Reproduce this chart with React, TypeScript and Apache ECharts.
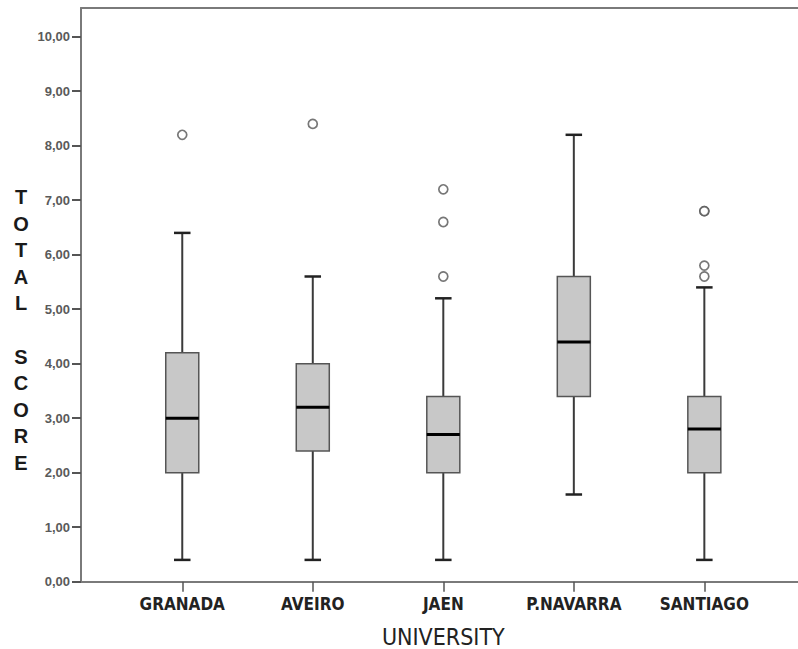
import React, { useEffect, useRef } from "react";
import * as echarts from "echarts";

const categories = ["GRANADA", "AVEIRO", "JAEN", "P.NAVARRA", "SANTIAGO"];
// [min, q1, median, q3, max]
const boxStats = [
  [0.4, 2.0, 3.0, 4.2, 6.4],
  [0.4, 2.4, 3.2, 4.0, 5.6],
  [0.4, 2.0, 2.7, 3.4, 5.2],
  [1.6, 3.4, 4.4, 5.6, 8.2],
  [0.4, 2.0, 2.8, 3.4, 5.4],
];
// [category index, value]
const outliers = [
  [0, 8.2],
  [1, 8.4],
  [2, 7.2],
  [2, 6.6],
  [2, 5.6],
  [4, 6.8],
  [4, 6.8],
  [4, 5.8],
  [4, 5.6],
];
const yTicks = { min: 0, max: 10, interval: 1 };
const yTitle = "T\nO\nT\nA\nL\n\nS\nC\nO\nR\nE";
const xTitle = "UNIVERSITY";

const narrow = "'Liberation Sans Narrow', 'DejaVu Sans Condensed', 'Liberation Sans', sans-serif";

export default function App() {
  const ref = useRef<HTMLDivElement>(null);
  useEffect(() => {
    if (!ref.current) return;
    const chart = echarts.init(ref.current, undefined, { renderer: "svg" });
    const axisGray = "#7a7a7a";
    const option: any = {
      animation: false,
      backgroundColor: "#ffffff",
      title: {
        text: yTitle,
        left: 16,
        top: 325,
        textAlign: "center",
        textVerticalAlign: "middle",
        textStyle: {
          fontFamily: "'Liberation Sans', Arial, sans-serif",
          fontSize: 20,
          fontWeight: "bold",
          color: "#1a1a1a",
          lineHeight: 26.6,
        },
      },
      grid: [
        { left: 81, right: 0, top: 8, bottom: 67.3, outerBoundsMode: "none" },
        { left: 117, right: 28.4, top: 36.7, bottom: 67.3, outerBoundsMode: "none" },
      ],
      xAxis: [
        {
          gridIndex: 0,
          type: "value",
          min: 0,
          max: 1,
          position: "bottom",
          axisLine: { show: true, lineStyle: { color: axisGray, width: 2 } },
          axisTick: { show: false },
          axisLabel: { show: false },
          splitLine: { show: false },
        },
        {
          gridIndex: 0,
          type: "value",
          min: 0,
          max: 1,
          position: "top",
          axisLine: { show: true, lineStyle: { color: axisGray, width: 2 } },
          axisTick: { show: false },
          axisLabel: { show: false },
          splitLine: { show: false },
        },
        {
          gridIndex: 1,
          type: "category",
          data: categories,
          boundaryGap: true,
          axisLine: { show: false },
          axisTick: {
            show: true,
            alignWithLabel: true,
            length: 10,
            lineStyle: { color: "#555", width: 1.5 },
          },
          axisLabel: {
            margin: 14,
            fontFamily: narrow,
            fontSize: 17,
            fontWeight: "bold",
            color: "#222",
          },
          name: xTitle,
          nameLocation: "middle",
          nameGap: 44,
          nameTextStyle: {
            fontFamily: narrow,
            fontSize: 23,
            color: "#222",
          },
          splitLine: { show: false },
        },
      ],
      yAxis: [
        {
          gridIndex: 0,
          type: "value",
          min: 0,
          max: 1,
          axisLine: { show: true, lineStyle: { color: axisGray, width: 2 } },
          axisTick: { show: false },
          axisLabel: { show: false },
          splitLine: { show: false },
        },
        {
          gridIndex: 1,
          type: "value",
          min: yTicks.min,
          max: yTicks.max,
          interval: yTicks.interval,
          offset: 36,
          axisLine: { show: false },
          axisTick: {
            show: true,
            length: 9,
            lineStyle: { color: "#555", width: 2 },
          },
          axisLabel: {
            margin: 11,
            fontFamily: "'Liberation Sans', Arial, sans-serif",
            fontSize: 13,
            fontWeight: "bold",
            color: "#5a5a5a",
            formatter: (v: number) => v.toFixed(2).replace(".", ","),
          },
          splitLine: { show: false },
        },
      ],
      series: [
        {
          type: "custom",
          xAxisIndex: 2,
          yAxisIndex: 1,
          data: boxStats.map((s, i) => [i, ...s]),
          encode: { x: 0, y: [1, 2, 3, 4, 5] },
          renderItem: (params: any, api: any) => {
            const idx = api.value(0);
            const pMin = api.coord([idx, api.value(1)]);
            const pQ1 = api.coord([idx, api.value(2)]);
            const pMed = api.coord([idx, api.value(3)]);
            const pQ3 = api.coord([idx, api.value(4)]);
            const pMax = api.coord([idx, api.value(5)]);
            const band = api.size([1, 0])[0];
            const bw = band * 0.253;
            const cw = bw / 2;
            const cx = pMed[0];
            const whisker = { stroke: "#3a3a3a", lineWidth: 2 };
            const cap = { stroke: "#222", lineWidth: 2.5 };
            return {
              type: "group",
              children: [
                { type: "line", shape: { x1: cx, y1: pMin[1], x2: cx, y2: pQ1[1] }, style: whisker },
                { type: "line", shape: { x1: cx, y1: pQ3[1], x2: cx, y2: pMax[1] }, style: whisker },
                { type: "line", shape: { x1: cx - cw / 2, y1: pMin[1], x2: cx + cw / 2, y2: pMin[1] }, style: cap },
                { type: "line", shape: { x1: cx - cw / 2, y1: pMax[1], x2: cx + cw / 2, y2: pMax[1] }, style: cap },
                {
                  type: "rect",
                  shape: { x: cx - bw / 2, y: pQ3[1], width: bw, height: pQ1[1] - pQ3[1] },
                  style: { fill: "#c8c8c8", stroke: "#555", lineWidth: 1.5 },
                },
                {
                  type: "line",
                  shape: { x1: cx - bw / 2, y1: pMed[1], x2: cx + bw / 2, y2: pMed[1] },
                  style: { stroke: "#000", lineWidth: 3 },
                },
              ],
            };
          },
        },
        {
          type: "scatter",
          xAxisIndex: 2,
          yAxisIndex: 1,
          data: outliers,
          symbol: "circle",
          symbolSize: 9,
          itemStyle: { color: "#ffffff", borderColor: "#555", borderWidth: 1.7 },
        },
      ],
    };
    chart.setOption(option);
    return () => chart.dispose();
  }, []);
  return (
    <div
      ref={ref}
      style={{ position: "fixed", left: 0, top: 0, width: 798, height: 649 }}
    />
  );
}
